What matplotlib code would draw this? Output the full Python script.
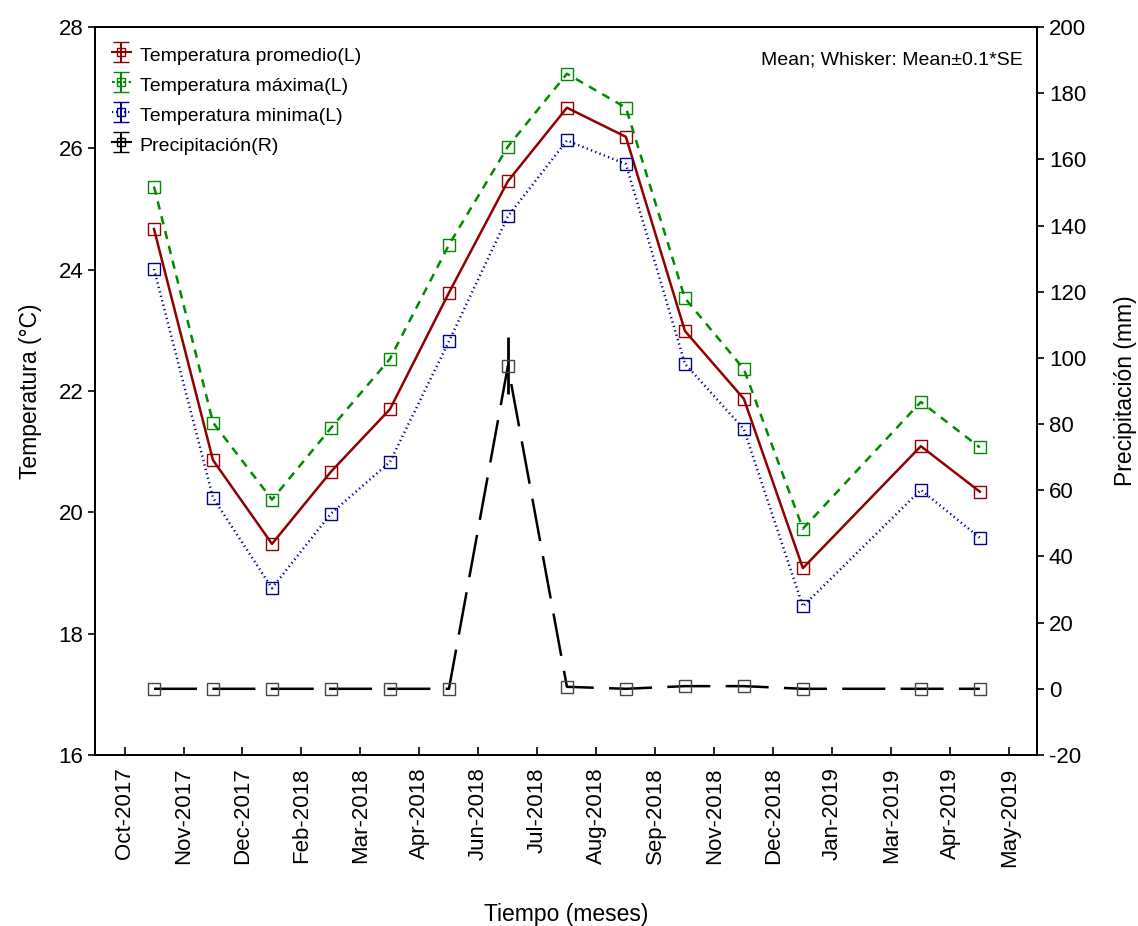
import numpy as np
import matplotlib
matplotlib.use('Agg')
import matplotlib.pyplot as plt

plt.rcParams['font.family'] = ['Liberation Sans', 'DejaVu Sans']
plt.rcParams['lines.scale_dashes'] = False
plt.rcParams['axes.unicode_minus'] = False

# tick labels of the time axis
tick_labels = ['Oct-2017', 'Nov-2017', 'Dec-2017', 'Feb-2018', 'Mar-2018', 'Apr-2018',
               'Jun-2018', 'Jul-2018', 'Aug-2018', 'Sep-2018', 'Nov-2018', 'Dec-2018',
               'Jan-2019', 'Mar-2019', 'Apr-2019', 'May-2019']

# slot (between ticks) of each sample; slot 12 has no sample
sample_slot = [0, 1, 2, 3, 4, 5, 6, 7, 8, 9, 10, 11, 13, 14]

# temperatures (C)
t_mean = [24.67, 20.86, 19.48, 20.67, 21.70, 23.62, 25.46, 26.67, 26.19, 22.99, 21.87, 19.08, 21.09, 20.34]
t_max = [25.37, 21.48, 20.21, 21.39, 22.53, 24.41, 26.03, 27.23, 26.67, 23.53, 22.36, 19.73, 21.82, 21.07]
t_min = [24.01, 20.24, 18.75, 19.98, 20.83, 22.82, 24.88, 26.13, 25.74, 22.45, 21.37, 18.45, 20.37, 19.58]

# precipitation (mm) and its whisker (0.1*SE)
precip = [0, 0, 0, 0, 0, 0, 97.6, 0.6, 0, 0.8, 0.8, 0, 0, 0]
precip_err = [0, 0, 0, 0, 0, 0, 8.6, 0, 0, 0, 0, 0, 0, 0]

red = '#920000'
green = '#008a00'
blue = '#00008b'

x = np.array(sample_slot) + 0.5

fig = plt.figure(figsize=(11.38, 9.26), dpi=100)
ax = fig.add_axes([0.0835, 0.1847, 0.8278, 0.7861])
ax2 = ax.twinx()

mk = dict(marker='s', ms=8, mfc='none', mew=1.0)

ax.plot(x, t_mean, color=red, lw=1.8, ls='-', mec=red, **mk)
ax.plot(x, t_max, color=green, lw=1.8, ls=(0, (6, 5)), mec=green, **mk)
ax.plot(x, t_min, color=blue, lw=1.8, ls=(0, (0.9, 2.4)), mec=blue, **mk)

ax2.errorbar(x, precip, yerr=precip_err, color='black', lw=1.8, ls=(0, (31, 11)),
             ecolor='black', elinewidth=2.0, capsize=0, mec='#444444', **mk)

# proxies for the legend (with whisker caps)
handles = []
for col, ls, lab, mec in [(red, '-', 'Temperatura promedio(L)', red),
                          (green, (0, (2, 2)), 'Temperatura máxima(L)', green),
                          (blue, (0, (0.9, 2.0)), 'Temperatura minima(L)', blue),
                          ('black', '-', 'Precipitación(R)', 'black')]:
    h = ax2.errorbar([np.nan], [np.nan], yerr=[1], color=col, ls=ls, lw=1.5,
                     ecolor=col, elinewidth=1.5, capsize=6, capthick=1.5,
                     marker='s', ms=6, mfc='none', mec=mec, mew=1.0, label=lab)
    handles.append(h)

leg = ax2.legend(handles=handles, loc='upper left', frameon=False, fontsize=14,
                 handlelength=1.0, handleheight=1.3, handletextpad=0.45,
                 labelspacing=0.45, borderaxespad=0.45, bbox_to_anchor=(0.0, 1.0))

ax2.text(0.985, 0.955, 'Mean; Whisker: Mean±0.1*SE', transform=ax2.transAxes,
         ha='right', va='center', fontsize=14)

ax.set_xlim(-0.5, 15.47)
ax.set_xticks(np.arange(len(tick_labels)))
ax.set_xticklabels(tick_labels, rotation=90)
ax.set_ylim(16, 28)
ax.set_yticks(np.arange(16, 29, 2))
ax2.set_ylim(-20, 200)
ax2.set_yticks(np.arange(-20, 201, 20))

ax.tick_params(axis='x', direction='in', length=6, width=1.2, labelsize=16, pad=9)
ax.tick_params(axis='y', direction='out', length=5, width=1.2, labelsize=16)
ax2.tick_params(axis='y', direction='out', length=5, width=1.2, labelsize=16)
for a in (ax, ax2):
    for s in a.spines.values():
        s.set_linewidth(1.3)

ax.set_ylabel('Temperatura (°C)', fontsize=16.5, labelpad=12)
ax2.set_ylabel('Precipitación (mm)', fontsize=16.5, labelpad=20)
ax.set_xlabel('Tiempo (meses)', fontsize=16.5, labelpad=26)

fig.savefig('out.png', dpi=100)
